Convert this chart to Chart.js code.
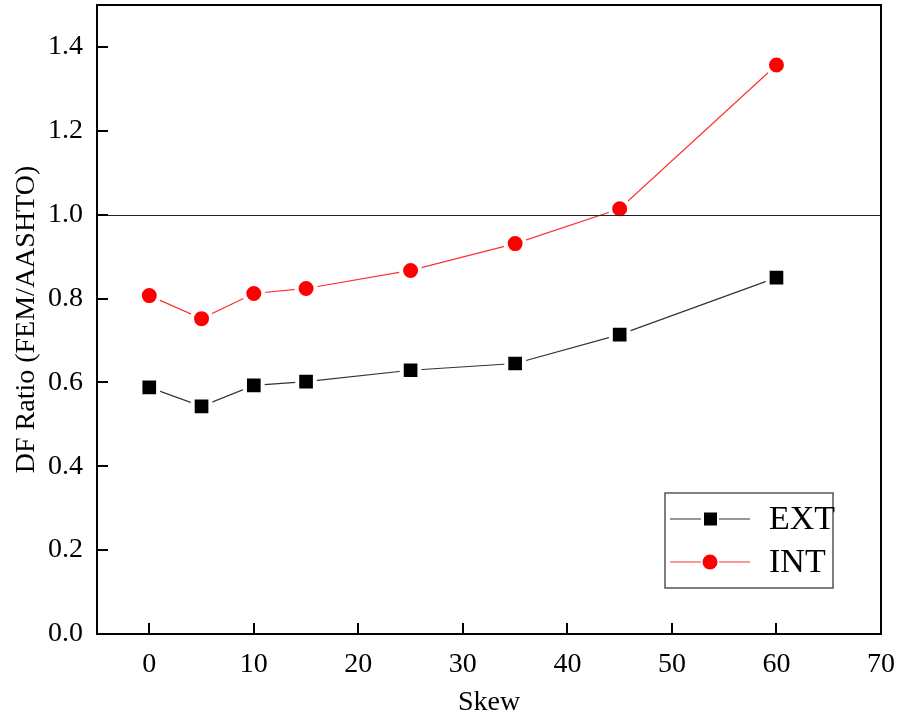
<!DOCTYPE html>
<html>
<head>
<meta charset="utf-8">
<script src="https://cdn.jsdelivr.net/npm/chart.js@4.4.0/dist/chart.umd.min.js"></script>
<style>
  html, body { margin: 0; padding: 0; background: #fff; }
  #wrap { width: 898px; height: 719px; }
</style>
</head>
<body>
<div id="wrap"><canvas id="chart"></canvas></div>
<script>
const skew = [0, 5, 10, 15, 25, 35, 45, 60];
const extValues = [0.588, 0.543, 0.593, 0.602, 0.629, 0.645, 0.714, 0.850];
const intValues = [0.807, 0.752, 0.812, 0.824, 0.867, 0.931, 1.014, 1.357];
const xTicks = [0, 10, 20, 30, 40, 50, 60, 70];
const yTicks = [0.0, 0.2, 0.4, 0.6, 0.8, 1.0, 1.2, 1.4];
const refLine = 1.0;

const FONT = "'Liberation Serif', serif";

// inward ticks, frame, reference line and the boxed legend
const framePlugin = {
  id: "frame",
  afterDatasetsDraw(chart) {
    const { ctx, chartArea: a, scales: { x, y } } = chart;
    ctx.save();
    // reference line at 1.0
    ctx.strokeStyle = "#222";
    ctx.lineWidth = 1.2;
    const yr = Math.round(y.getPixelForValue(refLine)) + 0.5;
    ctx.beginPath();
    ctx.moveTo(a.left, yr);
    ctx.lineTo(a.right, yr);
    ctx.stroke();

    // frame
    ctx.strokeStyle = "#000";
    ctx.lineWidth = 2;
    ctx.strokeRect(a.left, a.top, a.right - a.left, a.bottom - a.top);

    // inward ticks
    ctx.beginPath();
    xTicks.forEach(v => {
      const px = Math.round(x.getPixelForValue(v));
      ctx.moveTo(px, a.bottom);
      ctx.lineTo(px, a.bottom - 11);
    });
    yTicks.forEach(v => {
      const py = Math.round(y.getPixelForValue(v));
      ctx.moveTo(a.left, py);
      ctx.lineTo(a.left + 11, py);
    });
    ctx.stroke();

    // legend box
    const bx = a.right - 216, by = a.bottom - 141, bw = 168, bh = 95;
    ctx.fillStyle = "#fff";
    ctx.fillRect(bx, by, bw, bh);
    ctx.strokeStyle = "#555";
    ctx.lineWidth = 1.5;
    ctx.strokeRect(bx, by, bw, bh);

    const rows = [
      { label: chart.data.datasets[0].label, color: "#333", fill: "#000", style: "rect", y: by + 26 },
      { label: chart.data.datasets[1].label, color: "#ff3030", fill: "#ff0000", style: "circle", y: by + 69 }
    ];
    rows.forEach(r => {
      ctx.strokeStyle = r.color;
      ctx.lineWidth = 1.2;
      ctx.beginPath();
      ctx.moveTo(bx + 5, r.y); ctx.lineTo(bx + 36, r.y);
      ctx.moveTo(bx + 54, r.y); ctx.lineTo(bx + 85, r.y);
      ctx.stroke();
      ctx.fillStyle = r.fill;
      if (r.style === "rect") {
        ctx.fillRect(bx + 39, r.y - 6.5, 13, 13);
      } else {
        ctx.beginPath();
        ctx.arc(bx + 45, r.y, 7.5, 0, Math.PI * 2);
        ctx.fill();
      }
      ctx.fillStyle = "#000";
      ctx.font = "34px " + FONT;
      ctx.textBaseline = "middle";
      ctx.textAlign = "left";
      ctx.fillText(r.label, bx + 104, r.y + 1);
    });
    ctx.restore();
  }
};

new Chart(document.getElementById("chart"), {
  type: "line",
  data: {
    datasets: [
      {
        label: "EXT",
        data: skew.map((s, i) => ({ x: s, y: extValues[i] })),
        borderColor: "#333",
        borderWidth: 1.2,
        pointStyle: "rect",
        pointRadius: 12.5,
        pointBackgroundColor: "#000",
        pointBorderColor: "#fff",
        pointBorderWidth: 4,
        tension: 0
      },
      {
        label: "INT",
        data: skew.map((s, i) => ({ x: s, y: intValues[i] })),
        borderColor: "#ff3030",
        borderWidth: 1.2,
        pointStyle: "circle",
        pointRadius: 9.5,
        pointBackgroundColor: "#ff0000",
        pointBorderColor: "#fff",
        pointBorderWidth: 4,
        tension: 0
      }
    ]
  },
  options: {
    responsive: true,
    maintainAspectRatio: false,
    animation: false,
    layout: { autoPadding: false, padding: { top: 5, right: 17, left: 0, bottom: 0 } },
    plugins: {
      legend: { display: false },
      tooltip: { enabled: false }
    },
    scales: {
      x: {
        type: "linear",
        min: -5,
        max: 70,
        afterBuildTicks: s => { s.ticks = xTicks.map(v => ({ value: v })); },
        afterFit: s => { s.height = 85; s.paddingLeft = 0; s.paddingRight = 0; },
        grid: { display: false, drawTicks: false },
        border: { display: false },
        ticks: {
          padding: 14,
          color: "#000",
          font: { family: FONT, size: 28 }
        },
        title: {
          display: true,
          text: "Skew",
          color: "#000",
          font: { family: FONT, size: 28 },
          padding: { top: 0, bottom: 0 }
        }
      },
      y: {
        min: 0,
        max: 1.5,
        afterBuildTicks: s => { s.ticks = yTicks.map(v => ({ value: v })); },
        afterFit: s => { s.width = 97; s.paddingTop = 0; s.paddingBottom = 0; },
        grid: { display: false, drawTicks: false },
        border: { display: false },
        ticks: {
          padding: 14,
          color: "#000",
          font: { family: FONT, size: 28 },
          callback: v => v.toFixed(1)
        },
        title: {
          display: true,
          text: "DF Ratio (FEM/AASHTO)",
          color: "#000",
          font: { family: FONT, size: 28 },
          padding: { top: 10, bottom: 0 }
        }
      }
    }
  },
  plugins: [framePlugin]
});
</script>
</body>
</html>
